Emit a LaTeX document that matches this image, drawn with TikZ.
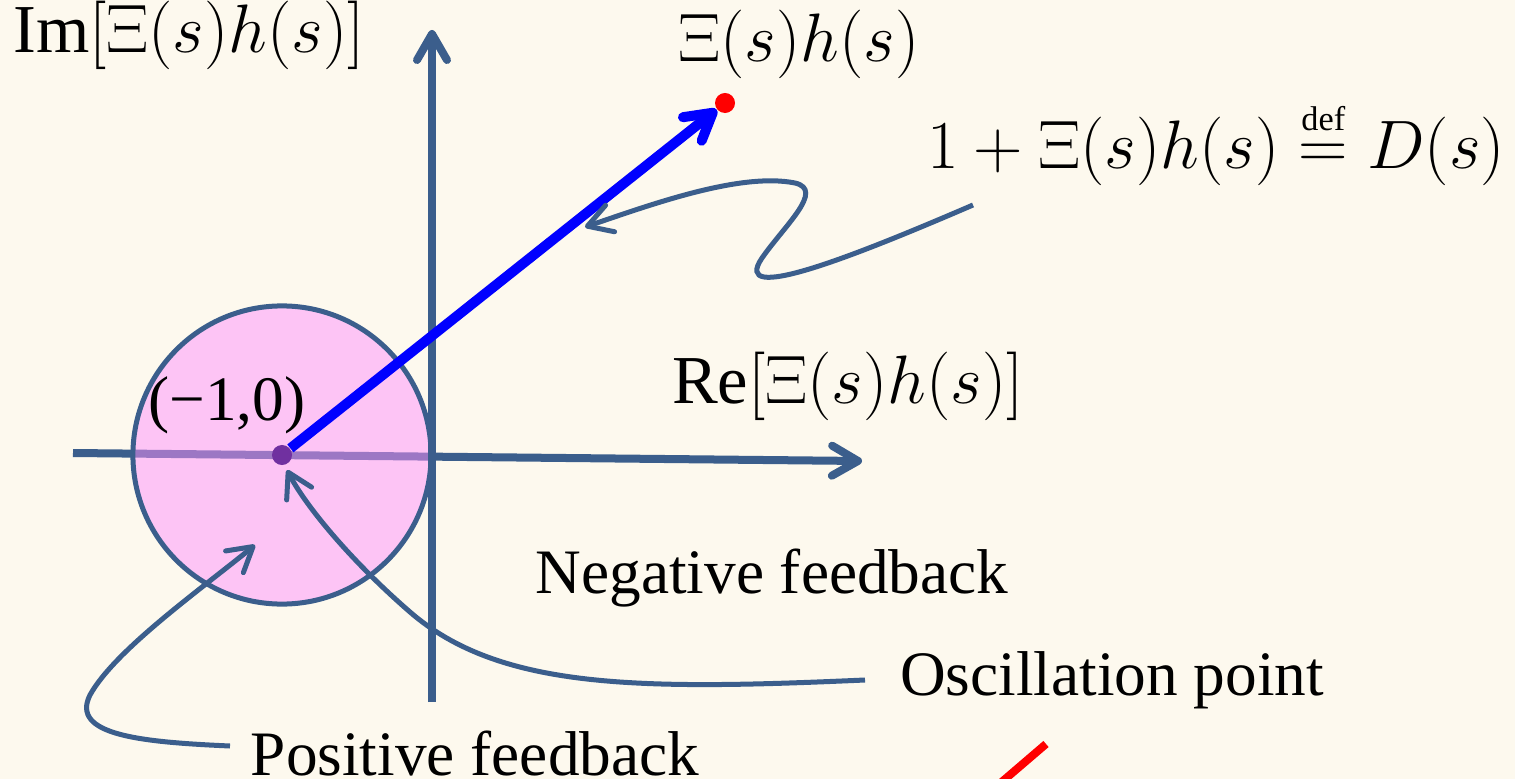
\documentclass[tikz,border=0pt]{standalone}
\usepackage{fix-cm}
\usepackage{amsmath}
\usepackage{fontspec}
\setmainfont{Liberation Serif}
\usetikzlibrary{arrows.meta}
\definecolor{bgc}{RGB}{253,249,238}
\definecolor{axc}{RGB}{59,94,140}
\definecolor{pinkc}{RGB}{253,145,252}
\definecolor{dotc}{RGB}{112,48,160}
\begin{document}
\begin{tikzpicture}[x=0.01cm,y=-0.01cm,
  lbl/.style={font=\fontsize{18}{22}\selectfont, inner sep=0pt, anchor=base, text=black},
  mlbl/.style={lbl, font=\fontsize{19.5}{23}\selectfont},
  axisln/.style={draw=axc, line width=0.08cm, -{Straight Barb[length=0.26cm,width=0.30cm,round]}},
  annot/.style={draw=axc, line width=0.05cm, -{Straight Barb[length=0.24cm,width=0.28cm,round]}},
  vecln/.style={draw=blue, line width=0.10cm, -{Straight Barb[length=0.26cm,width=0.30cm,round]}},
  dotn/.style={circle, inner sep=0pt, minimum size=0.2cm}]
\useasboundingbox (0,0) rectangle (1515,779);
\fill[bgc] (0,0) rectangle (1515,779);

% real axis
\coordinate (xa0) at (73,453);
\coordinate (xa1) at (862,461);
\draw[axisln] (xa0) -- (xa1);

% positive feedback disk
\node[circle, draw=axc, line width=0.05cm, fill=pinkc, fill opacity=0.5, draw opacity=1,
      minimum size=2.98cm, inner sep=0pt] (disk) at (282,455) {};

% imaginary axis
\coordinate (ya0) at (432,702);
\coordinate (ya1) at (432,30);
\draw[axisln] (ya0) -- (ya1);

% points and vector
\node[dotn, fill=dotc] (m1) at (282,455) {};
\node[dotn, fill=red] (zp) at (725,103) {};
\draw[vecln] (m1) -- (zp);

% labels
\node[mlbl] (imlbl) at (189,53) {Im$[\Xi(s)h(s)]$};
\node[mlbl] (zlbl) at (799,62) {$\Xi(s)h(s)$};
\node[mlbl] (dlbl) at (1216,169) {$1+\Xi(s)h(s)\stackrel{\scriptscriptstyle\mathrm{def}}{=}D(s)$};
\node[mlbl] (relbl) at (848,403) {Re$[\Xi(s)h(s)]$};
\node[lbl] (mlbl) at (227,420) {(−1,0)};
\node[lbl] (neg) at (772,593) {Negative feedback};
\node[lbl] (osc) at (1112,695) {Oscillation point};
\node[lbl] (pos) at (475,775) {Positive feedback};

% annotation arrows
\coordinate (sq0) at (973,205);
\coordinate (sq1) at (585,227);
\draw[annot] (sq0) .. controls (850,258) and (730,305) .. (762,258)
  .. controls (785,225) and (825,190) .. (795,183)
  .. controls (740,172) and (650,205) .. (sq1);

\coordinate (os0) at (865,680);
\coordinate (os1) at (287,470);
\draw[annot] (os0) .. controls (640,690) and (500,690) .. (410,612)
  .. controls (350,560) and (305,505) .. (os1);

\coordinate (pf0) at (230,746);
\coordinate (pf1) at (255,545);
\draw[annot] (pf0) .. controls (140,742) and (70,735) .. (90,695)
  .. controls (115,650) and (200,590) .. (pf1);

% red slash at the bottom
\coordinate (rs0) at (1046,744);
\coordinate (rs1) at (990,792);
\draw[red, line width=0.08cm] (rs0) -- (rs1);
\end{tikzpicture}
\end{document}
